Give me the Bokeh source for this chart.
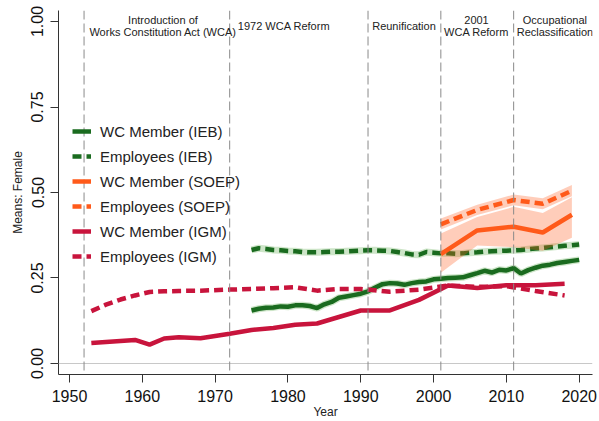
from bokeh.plotting import figure
from bokeh.models import (Range1d, Span, Label, Legend, LegendItem, FixedTicker,
                          PrintfTickFormatter)
from bokeh.embed import file_html
from bokeh.resources import INLINE

# ---------------- data ----------------
x_ticks = [1950, 1960, 1970, 1980, 1990, 2000, 2010, 2020]
y_ticks = [0.0, 0.25, 0.5, 0.75, 1.0]

event_years = [1952, 1972, 1991, 2001, 2011]
event_labels = ["Introduction of\nWorks Constitution Act (WCA)", "1972 WCA Reform",
                "Reunification", "2001\nWCA Reform", "Occupational\nReclassification"]
event_label_x = [1962.84, 1979.46, 1995.94, 2005.9, 2016.67]

ieb_years = list(range(1975, 2021))
ieb_wc = [0.155, 0.160, 0.163, 0.164, 0.167, 0.166, 0.170, 0.170, 0.168, 0.162,
          0.173, 0.180, 0.192, 0.196, 0.200, 0.204, 0.211, 0.222, 0.232, 0.235,
          0.234, 0.230, 0.235, 0.238, 0.240, 0.246, 0.248, 0.250, 0.251, 0.252,
          0.258, 0.264, 0.271, 0.266, 0.274, 0.272, 0.279, 0.263, 0.273, 0.280,
          0.286, 0.289, 0.294, 0.297, 0.300, 0.303]
ieb_emp = [0.332, 0.337, 0.335, 0.332, 0.331, 0.329, 0.328, 0.326, 0.325, 0.325,
           0.326, 0.327, 0.327, 0.328, 0.329, 0.330, 0.331, 0.331, 0.330, 0.329,
           0.326, 0.323, 0.319, 0.318, 0.326, 0.324, 0.322, 0.322, 0.321, 0.322,
           0.324, 0.325, 0.327, 0.328, 0.329, 0.330, 0.331, 0.332, 0.334, 0.336,
           0.338, 0.340, 0.342, 0.344, 0.346, 0.348]

soep_years = [2001, 2006, 2011, 2015, 2019]
soep_wc = [0.320, 0.389, 0.400, 0.383, 0.435]
soep_wc_lo = [0.265, 0.345, 0.340, 0.330, 0.368]
soep_wc_hi = [0.380, 0.428, 0.458, 0.440, 0.486]
soep_emp = [0.407, 0.449, 0.478, 0.467, 0.505]
soep_emp_lo = [0.392, 0.434, 0.463, 0.451, 0.489]
soep_emp_hi = [0.424, 0.464, 0.494, 0.483, 0.522]

igm_years = [1953, 1955, 1957, 1959, 1961, 1963, 1965, 1968, 1972, 1975, 1978,
             1981, 1984, 1987, 1990, 1994, 1998, 2002, 2006, 2010, 2014, 2018]
igm_wc = [0.060, 0.063, 0.066, 0.069, 0.055, 0.073, 0.077, 0.074, 0.087, 0.098,
          0.104, 0.113, 0.117, 0.136, 0.155, 0.155, 0.186, 0.228, 0.221, 0.229,
          0.229, 0.233]
igm_emp = [0.153, 0.172, 0.187, 0.199, 0.209, 0.211, 0.212, 0.213, 0.216, 0.218,
           0.220, 0.223, 0.213, 0.218, 0.218, 0.210, 0.216, 0.228, 0.224, 0.226,
           0.212, 0.199]

# ---------------- styles ----------------
FONT = "Liberation Sans"
GREEN = "#1a6b1f"
HALO = "#cde5c8"
ORANGE = "#ff5a1a"
CRIMSON = "#c8143c"
LW = 4.5
DASH = "9 5"

p = figure(width=599, height=421, output_backend="svg", toolbar_location=None,
           x_range=Range1d(1948.49, 2021.83), y_range=Range1d(-0.0322, 1.0322),
           min_border_left=58, min_border_right=7, min_border_top=10,
           min_border_bottom=47)
p.outline_line_color = None
p.grid.visible = False
p.background_fill_color = "white"
p.border_fill_color = "white"

# axes
for ax in (p.xaxis, p.yaxis):
    ax.axis_line_color = "#333333"
    ax.major_tick_line_color = "#333333"
    ax.major_tick_out = 8
    ax.major_tick_in = 0
    ax.minor_tick_line_color = None
    ax.major_label_text_font = FONT
    ax.major_label_text_font_size = "16px"
    ax.major_label_text_color = "#111111"
    ax.major_label_standoff = 7
    ax.axis_label_text_font = FONT
    ax.axis_label_text_font_size = "12px"
    ax.axis_label_text_font_style = "normal"
    ax.axis_label_text_color = "#222222"
p.xaxis.ticker = FixedTicker(ticks=x_ticks)
p.yaxis.ticker = FixedTicker(ticks=y_ticks)
p.yaxis.formatter = PrintfTickFormatter(format="%.2f")
p.yaxis.major_label_orientation = "vertical"
p.xaxis.axis_label = "Year"
p.yaxis.axis_label = "Means: Female"
p.xaxis.axis_label_standoff = 0
p.yaxis.axis_label_standoff = 4

# zero line & event lines
p.add_layout(Span(location=y_ticks[0], dimension="width", line_color="#c8c8c8",
                  line_width=1))
for yr in event_years:
    p.add_layout(Span(location=yr, dimension="height", line_color="#8a8a8a",
                      line_width=1, line_dash="9 4"))

# IEB (with pale halo)
p.line(ieb_years, ieb_emp, line_color=HALO, line_width=7)
p.line(ieb_years, ieb_wc, line_color=HALO, line_width=7)
r_ieb_emp = p.line(ieb_years, ieb_emp, line_color=GREEN, line_width=LW, line_dash=DASH)
r_ieb_wc = p.line(ieb_years, ieb_wc, line_color=GREEN, line_width=LW)

# IGM
r_igm_emp = p.line(igm_years, igm_emp, line_color=CRIMSON, line_width=LW, line_dash=DASH)
r_igm_wc = p.line(igm_years, igm_wc, line_color=CRIMSON, line_width=LW)

# SOEP bands and lines
p.varea(x=soep_years, y1=soep_wc_lo, y2=soep_wc_hi, fill_color=ORANGE, fill_alpha=0.3)
p.varea(x=soep_years, y1=soep_emp_lo, y2=soep_emp_hi, fill_color=ORANGE, fill_alpha=0.3)
r_soep_wc = p.line(soep_years, soep_wc, line_color=ORANGE, line_width=LW)
r_soep_emp = p.line(soep_years, soep_emp, line_color=ORANGE, line_width=LW, line_dash=DASH)

# event annotations
for lbl, xx in zip(event_labels, event_label_x):
    p.add_layout(Label(x=xx, y=0.9868, text=lbl, text_align="center",
                       text_baseline="middle", text_font=FONT,
                       text_font_size="11px", text_line_height=1.0,
                       text_color="#222222"))

legend = Legend(items=[
    LegendItem(label="WC Member (IEB)", renderers=[r_ieb_wc]),
    LegendItem(label="Employees (IEB)", renderers=[r_ieb_emp]),
    LegendItem(label="WC Member (SOEP)", renderers=[r_soep_wc]),
    LegendItem(label="Employees (SOEP)", renderers=[r_soep_emp]),
    LegendItem(label="WC Member (IGM)", renderers=[r_igm_wc]),
    LegendItem(label="Employees (IGM)", renderers=[r_igm_emp]),
], location=(4, 98))
legend.background_fill_alpha = 0
legend.border_line_alpha = 0
legend.padding = 10
legend.margin = 0
legend.spacing = 5
legend.glyph_width = 19
legend.glyph_height = 20
legend.label_height = 20
legend.label_standoff = 9
legend.label_text_font = FONT
legend.label_text_font_size = "15px"
legend.label_text_color = "#222222"
p.add_layout(legend, "center")

open("out.html", "w").write(file_html(p, INLINE))
